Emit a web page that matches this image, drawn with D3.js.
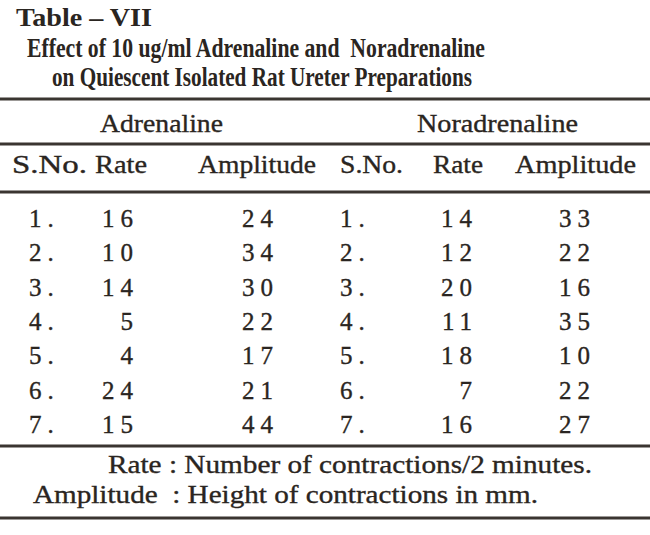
<!DOCTYPE html>
<html>
<head>
<meta charset="utf-8">
<script src="https://cdn.jsdelivr.net/npm/d3@7"></script>
<style>
  html, body { margin: 0; padding: 0; background: #fff; }
  svg { display: block; }
  text { font-family: "Liberation Serif", "DejaVu Serif", serif; fill: #2a2521; }
  text.reg { stroke: #2a2521; stroke-width: 0.35; }
</style>
</head>
<body>
<svg id="chart" width="650" height="535"></svg>
<script>
// ---- data ----
const tableLabel = "Table \u2013 VII";
const titleLines = ["Effect of 10 ug/ml Adrenaline and  Noradrenaline",
                    "on Quiescent Isolated Rat Ureter Preparations"];
const groups = ["Adrenaline", "Noradrenaline"];
const columnHeaders = ["S.No.", "Rate", "Amplitude", "S.No.", "Rate", "Amplitude"];
const serialNos = ["1.", "2.", "3.", "4.", "5.", "6.", "7."];
const adrenalineRate = [16, 10, 14, 5, 4, 24, 15];
const adrenalineAmplitude = [24, 34, 30, 22, 17, 21, 44];
const noradrenalineRate = [14, 12, 20, 11, 18, 7, 16];
const noradrenalineAmplitude = [33, 22, 16, 35, 10, 22, 27];
const footnotes = ["Rate : Number of contractions/2 minutes.",
                   "Amplitude  : Height of contractions in mm."];

// ---- layout ----
const svg = d3.select("#chart");
const W = 650;

const rowY = d3.scalePoint().domain(serialNos).range([227, 433]);

// rules
const rules = [99, 144, 192, 446, 518];
svg.selectAll("line.rule").data(rules).join("line")
  .attr("class", "rule")
  .attr("x1", 0).attr("x2", W)
  .attr("y1", d => d).attr("y2", d => d)
  .attr("stroke", "#3a3531").attr("stroke-width", 3.2);

// title
svg.append("text").attr("x", 16).attr("y", 26)
  .attr("font-size", 26).attr("font-weight", "bold")
  .attr("textLength", 136).attr("lengthAdjust", "spacingAndGlyphs")
  .text(tableLabel);

const titleSpec = [{x: 27, y: 57, w: 458}, {x: 52, y: 86, w: 420}];
svg.selectAll("text.title").data(titleLines).join("text")
  .attr("class", "title")
  .attr("x", (d, i) => titleSpec[i].x).attr("y", (d, i) => titleSpec[i].y)
  .attr("font-size", 27).attr("font-weight", "bold")
  .attr("textLength", (d, i) => titleSpec[i].w).attr("lengthAdjust", "spacingAndGlyphs")
  .style("white-space", "pre")
  .text(d => d);

// group headers
const groupSpec = [{x: 100, w: 123}, {x: 417, w: 161}];
svg.selectAll("text.group").data(groups).join("text")
  .attr("class", "group reg")
  .attr("x", (d, i) => groupSpec[i].x).attr("y", 132)
  .attr("font-size", 26)
  .attr("textLength", (d, i) => groupSpec[i].w).attr("lengthAdjust", "spacingAndGlyphs")
  .text(d => d);

// column headers
const headSpec = [{x: 12, w: 75}, {x: 95, w: 52}, {x: 198, w: 118},
                  {x: 340, w: 63}, {x: 433, w: 50}, {x: 515, w: 121}];
svg.selectAll("text.head").data(columnHeaders).join("text")
  .attr("class", "head reg")
  .attr("x", (d, i) => headSpec[i].x).attr("y", 173)
  .attr("font-size", 26)
  .attr("textLength", (d, i) => headSpec[i].w).attr("lengthAdjust", "spacingAndGlyphs")
  .text(d => d);

// data columns
const ls = 6;
const cols = [
  {vals: serialNos, x: 29, anchor: "start"},
  {vals: adrenalineRate, x: 133 + ls, anchor: "end"},
  {vals: adrenalineAmplitude, x: 273 + ls, anchor: "end"},
  {vals: serialNos, x: 340, anchor: "start"},
  {vals: noradrenalineRate, x: 472 + ls, anchor: "end"},
  {vals: noradrenalineAmplitude, x: 590 + ls, anchor: "end"}
];
cols.forEach((c, ci) => {
  svg.selectAll("text.c" + ci).data(c.vals).join("text")
    .attr("class", "reg c" + ci)
    .attr("x", c.x)
    .attr("y", (d, i) => rowY(serialNos[i]))
    .attr("text-anchor", c.anchor)
    .attr("font-size", 25)
    .attr("letter-spacing", ls)
    .text(d => d);
});

// footnotes
const footSpec = [{x: 108, y: 473, w: 484}, {x: 33, y: 503, w: 505}];
svg.selectAll("text.foot").data(footnotes).join("text")
  .attr("class", "foot reg")
  .attr("x", (d, i) => footSpec[i].x).attr("y", (d, i) => footSpec[i].y)
  .attr("font-size", 26)
  .attr("textLength", (d, i) => footSpec[i].w).attr("lengthAdjust", "spacingAndGlyphs")
  .style("white-space", "pre")
  .text(d => d);
</script>
</body>
</html>
